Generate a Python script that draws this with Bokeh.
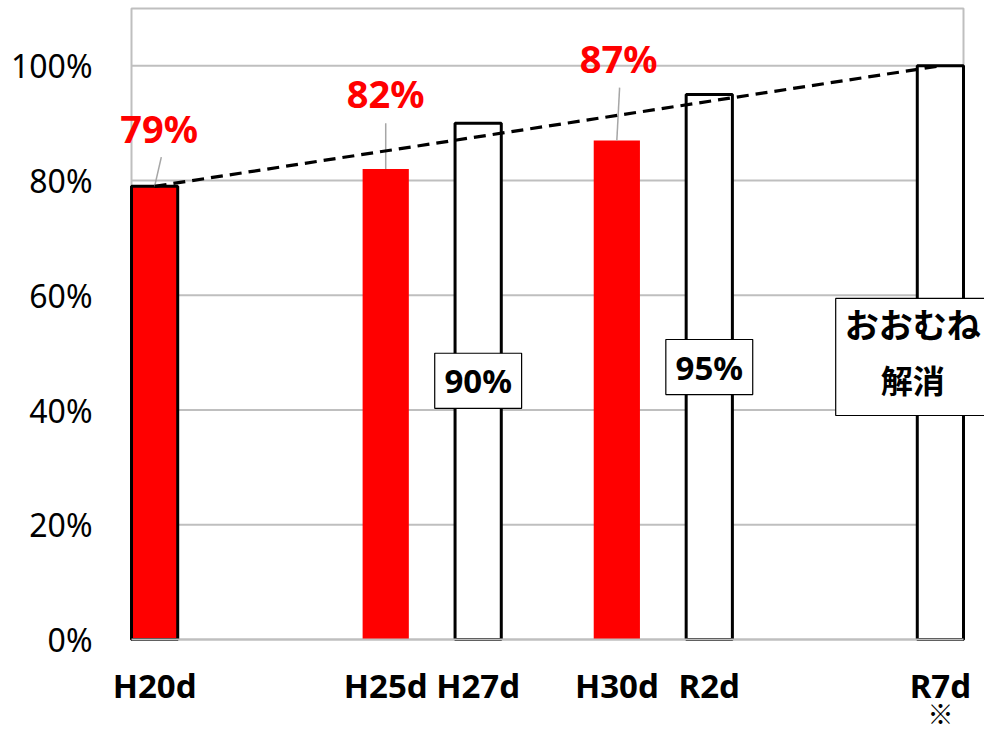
from bokeh.plotting import figure
from bokeh.models import (ColumnDataSource, FixedTicker, Label, Range1d,
                          NumeralTickFormatter)
from bokeh.core.properties import value
from bokeh.embed import file_html
from bokeh.resources import INLINE

# Fiscal years on the horizontal axis (Gregorian year of each period)
fiscal_years = [2008, 2013, 2015, 2018, 2020, 2025]
year_labels = ["H20d", "H25d", "H27d", "H30d", "R2d", "R7d"]

# Achieved rates (red bars)
actual_years = [2008, 2013, 2018]
actual_rates = [0.79, 0.82, 0.87]
actual_labels = ["79%", "82%", "87%"]

# Target rates (white bars)
target_years = [2015, 2020, 2025]
target_rates = [0.90, 0.95, 1.00]
target_labels = ["90%", "95%", "おおむね"]
target_sublabels = ["", "", "解消"]

# Trend from the first result to the final target
trend_years = [actual_years[0], target_years[-1]]
trend_rates = [actual_rates[0], target_rates[-1]]

y_ticks = [0, 0.2, 0.4, 0.6, 0.8, 1.0]

LATIN = "Noto Sans"
CJK = "Noto Sans CJK JP"
GRID = "#bfbfbf"

# plotting area in data units; the canvas around it also maps to data space
X0, X1 = 2007.5, 2025.5
Y0, Y1 = 0.0, 1.1
W, H = 984, 731
LEFT, RIGHT, TOP, BOTTOM = 131, 21, 8, 92
px_x = (W - LEFT - RIGHT) / (X1 - X0)
px_y = (H - TOP - BOTTOM) / (Y1 - Y0)

p = figure(width=W, height=H, output_backend="svg", toolbar_location=None,
           x_range=Range1d(X0 - LEFT / px_x, X1 + RIGHT / px_x),
           y_range=Range1d(Y0 - BOTTOM / px_y, Y1 + TOP / px_y),
           min_border=0)
p.background_fill_color = "white"
p.border_fill_color = "white"
p.outline_line_color = None
p.xgrid.grid_line_color = None
p.ygrid.grid_line_color = None

# horizontal gridlines and the plot-area border
p.segment(x0=[X0] * len(y_ticks), x1=[X1] * len(y_ticks), y0=y_ticks, y1=y_ticks,
          line_color=GRID, line_width=2)
p.multi_line(xs=[[X0, X0, X1, X1]], ys=[[Y0, Y1, Y1, Y0]],
             line_color=GRID, line_width=2)

# axes pinned to the plot-area edges
p.xaxis.fixed_location = 0
p.xaxis.bounds = (X0, X1)
p.xaxis.ticker = FixedTicker(ticks=fiscal_years)
p.xaxis.major_label_overrides = {y: l for y, l in zip(fiscal_years, year_labels)}
p.xaxis.major_label_text_font = LATIN
p.xaxis.major_label_text_font_style = "bold"
p.xaxis.major_label_text_font_size = "33px"
p.xaxis.major_label_text_color = "black"
p.xaxis.major_label_standoff = 17
p.xaxis.axis_line_color = GRID
p.xaxis.axis_line_width = 2
p.xaxis.major_tick_line_color = None
p.xaxis.minor_tick_line_color = None

p.yaxis.fixed_location = X0
p.yaxis.bounds = (0, 1.0)
p.yaxis.ticker = FixedTicker(ticks=y_ticks)
p.yaxis.formatter = NumeralTickFormatter(format="0%")
p.yaxis.major_label_text_font = LATIN
p.yaxis.major_label_text_font_size = "32px"
p.yaxis.major_label_text_color = "black"
p.yaxis.major_label_standoff = 33
p.yaxis.axis_line_color = None
p.yaxis.major_tick_line_color = None
p.yaxis.minor_tick_line_color = None

# achieved bars: the first one carries a black outline
label_dx = [0.1, 0.0, 0.04]
label_y = [0.891, 0.953, 1.014]
leader_dx = [0.145, 0.0, 0.06]
leader_y = [0.841, 0.900, 0.962]
actual_src = ColumnDataSource(dict(
    x=actual_years, top=actual_rates, label=actual_labels, outline=[1, 0, 0],
    lx=[y + d for y, d in zip(actual_years, label_dx)], ly=label_y,
    leader_x=[y + d for y, d in zip(actual_years, leader_dx)], leader_y=leader_y,
))
p.vbar(x="x", top="top", width=1.0, bottom=0, source=actual_src,
       fill_color="#ff0000", line_color="black", line_alpha="outline", line_width=3)

# target bars
target_src = ColumnDataSource(dict(x=target_years, top=target_rates))
p.vbar(x="x", top="top", width=1.0, bottom=0, source=target_src,
       fill_color="white", line_color="black", line_width=3)

# leader lines from value labels down to the bar tops
p.segment(x0="leader_x", y0="leader_y", x1="x", y1="top", source=actual_src,
          line_color="#a6a6a6", line_width=1.5)

# dashed trend line
p.line(trend_years, trend_rates, line_color="black", line_width=3.2, line_dash="12 7")

# value labels for achieved rates
p.text(x="lx", y="ly", text="label", source=actual_src,
       text_font=value(LATIN), text_font_style="bold", text_font_size="38px",
       text_color="#ff0000", text_align="center", text_baseline="middle")

# boxed notes on the target bars
note_dx = [0.0, 0.0, -0.6]
note_cy = [0.451, 0.475, 0.4925]
note_w = [1.88, 1.88, 3.33]
note_h = [0.096, 0.096, 0.204]
note_src = ColumnDataSource(dict(
    x=[y + d for y, d in zip(target_years, note_dx)], y=note_cy,
    w=note_w, h=note_h, label=target_labels, sub=target_sublabels,
))
p.rect(x="x", y="y", width="w", height="h", source=note_src,
       fill_color="white", line_color="black", line_width=1.2)

for x, lab, sub, cy in zip(note_src.data["x"], target_labels, target_sublabels, note_cy):
    if sub:
        p.add_layout(Label(x=x, y=cy + 0.058, text=lab, text_font=CJK,
                           text_font_style="bold", text_font_size="34px",
                           text_color="black", text_align="center",
                           text_baseline="middle"))
        p.add_layout(Label(x=x, y=cy - 0.038, text=sub, text_font=CJK,
                           text_font_style="bold", text_font_size="32px",
                           text_color="black", text_align="center",
                           text_baseline="middle"))
    else:
        p.add_layout(Label(x=x, y=cy, text=lab, text_font=LATIN,
                           text_font_style="bold", text_font_size="33px",
                           text_color="black", text_align="center",
                           text_baseline="middle"))

# footnote mark under the final year
p.add_layout(Label(x=fiscal_years[-1], y=-0.128, text="※", text_font=CJK,
                   text_font_style="bold", text_font_size="26px", text_color="black",
                   text_align="center", text_baseline="middle"))

open("out.html", "w").write(file_html(p, INLINE))
